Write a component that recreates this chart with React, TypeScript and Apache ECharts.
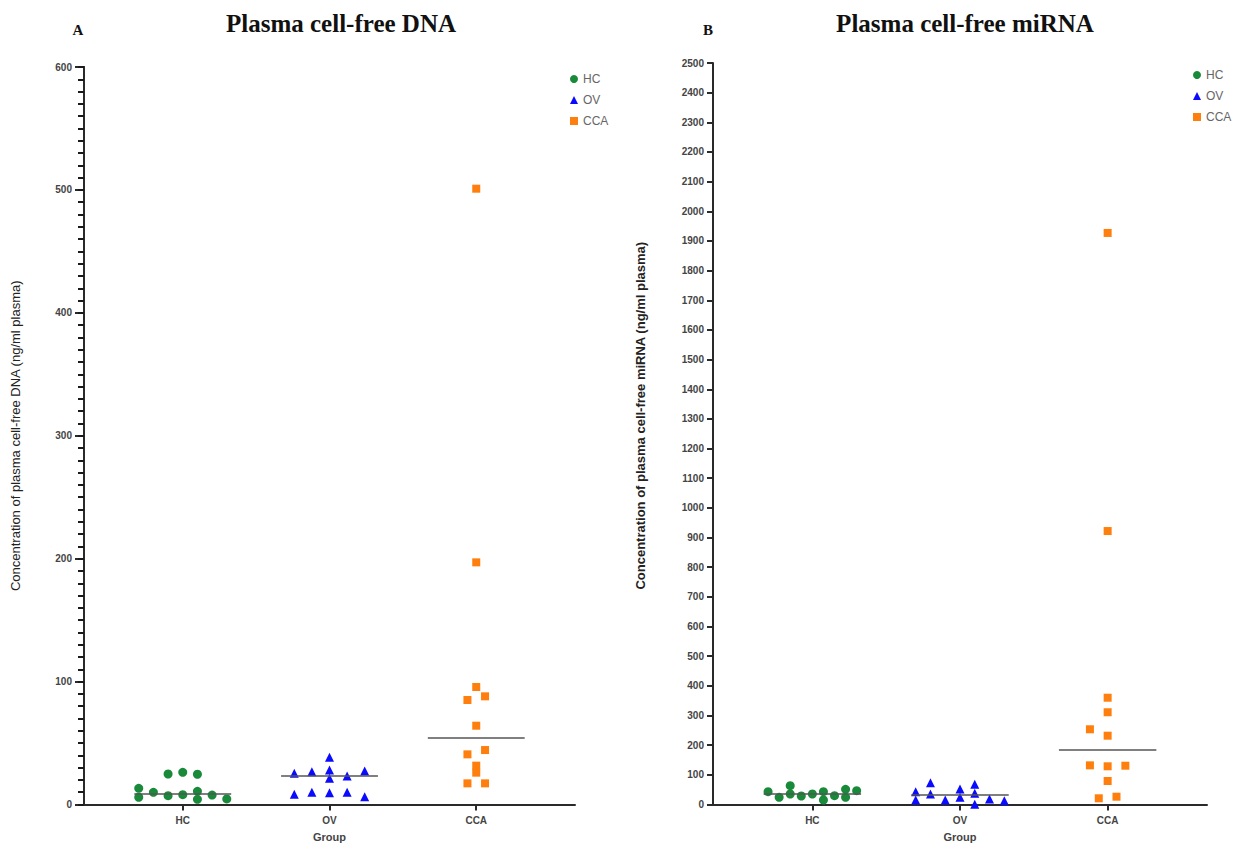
import React, { useEffect, useRef } from "react";
import * as echarts from "echarts";

const groups = ["HC", "OV", "CCA"];
const groupColors = ["#188a3a", "#0a0aff", "#ff7f0e"];
const groupSymbols = ["circle", "triangle", "rect"];
const groupSymbolSizes = [9, 9, 8];

// Panel A: plasma cell-free DNA (ng/ml plasma); x = jittered group position
const dnaHcX = [0.7, 0.7, 0.8, 0.9, 0.9, 1, 1, 1.1, 1.1, 1.1, 1.2, 1.3];
const dnaHcY = [13.2, 5.9, 9.9, 24.8, 7.2, 26.2, 8.0, 24.6, 10.7, 4.2, 7.7, 4.5];
const dnaOvX = [1.76, 1.88, 2, 2, 2, 2.12, 2.24, 1.76, 1.88, 2, 2.12, 2.24];
const dnaOvY = [25.4, 26.7, 38.4, 28.1, 21.3, 23.2, 27.3, 8.3, 9.9, 9.6, 9.9, 6.3];
const dnaCcaX = [3, 3, 3, 2.94, 3.06, 3, 2.94, 3.06, 3, 3, 2.94, 3.06];
const dnaCcaY = [501, 197, 95.6, 85.0, 88.0, 64.1, 40.8, 44.3, 31.6, 25.9, 17.2, 17.2];
const dnaMedians = [9.1, 23.2, 54.1];

// Panel B: plasma cell-free miRNA (ng/ml plasma)
const mirHcX = [0.7, 0.775, 0.85, 0.85, 0.925, 1, 1.075, 1.075, 1.15, 1.225, 1.225, 1.3];
const mirHcY = [43.2, 24.3, 63.4, 35.4, 28.7, 35.4, 43.2, 15.2, 29.7, 51.2, 24.3, 46.5];
const mirOvX = [1.7, 1.7, 1.8, 1.8, 1.9, 2, 2, 2.1, 2.1, 2.1, 2.2, 2.3];
const mirOvY = [43.2, 15.2, 73.5, 35.4, 15.2, 52.3, 24.3, 68.1, 37.8, 0.7, 18.5, 12.8];
const mirCcaX = [3, 3, 3, 3, 2.88, 3, 2.88, 3, 3.12, 3, 2.94, 3.06];
const mirCcaY = [1927, 922, 360, 311, 253.6, 232, 132, 128.8, 130.8, 79.3, 20.9, 26.3];
const mirMedians = [37.8, 34.4, 183.7];

const groupPositions = [1, 2, 3];

const zip = (xs: number[], ys: number[]) => xs.map((x, i) => [x, ys[i]]);

export default function App() {
  const ref = useRef<HTMLDivElement>(null);
  useEffect(() => {
    if (!ref.current) return;
    const chart = echarts.init(ref.current, null, { renderer: "svg" });
    const font = "'Liberation Sans', Arial, sans-serif";
    const serif = "'Liberation Serif', 'Times New Roman', serif";
    const axisColor = "#2a2a2a";

    const makeX = (gridIndex: number) => ({
      type: "value",
      gridIndex,
      min: 0.327,
      max: 3.673,
      name: "Group",
      nameLocation: "middle",
      nameGap: 27,
      nameTextStyle: { fontFamily: font, fontSize: 11, fontWeight: "bold", color: "#444" },
      splitLine: { show: false },
      axisLine: { lineStyle: { color: axisColor, width: 2 } },
      axisTick: { show: true, customValues: groupPositions, length: 6, lineStyle: { color: axisColor, width: 2 } },
      axisLabel: {
        customValues: groupPositions,
        formatter: (v: number) => groups[Math.round(v) - 1] ?? "",
        fontFamily: font,
        fontSize: 10,
        fontWeight: "bold",
        color: "#444",
        margin: 11,
      },
    });

    const dataA = [zip(dnaHcX, dnaHcY), zip(dnaOvX, dnaOvY), zip(dnaCcaX, dnaCcaY)];
    const dataB = [zip(mirHcX, mirHcY), zip(mirOvX, mirOvY), zip(mirCcaX, mirCcaY)];

    const makeSeries = (panel: number, data: number[][][], medians: number[]) =>
      groups.map((g, i) => ({
        name: g,
        type: "scatter",
        xAxisIndex: panel,
        yAxisIndex: panel,
        symbol: groupSymbols[i],
        symbolSize: groupSymbolSizes[i],
        itemStyle: { color: groupColors[i], opacity: 1 },
        data: data[i],
        markLine: {
          silent: true,
          symbol: ["none", "none"],
          label: { show: false },
          lineStyle: { color: "#555", width: 1.5, type: "solid" },
          data: [
            [
              { coord: [groupPositions[i] - 0.33, medians[i]] },
              { coord: [groupPositions[i] + 0.33, medians[i]] },
            ],
          ],
        },
      }));

    const legendBase = {
      orient: "vertical",
      itemWidth: 8,
      itemHeight: 8,
      itemGap: 9,
      textStyle: { fontFamily: font, fontSize: 12, color: "#666" },
      data: groups,
    };

    const plain = (v: number) => String(v);

    chart.setOption({
      animation: false,
      backgroundColor: "#ffffff",
      title: [
        { text: "Plasma cell-free DNA", left: 336, top: 6, textAlign: "center", textStyle: { fontFamily: serif, fontSize: 25, fontWeight: "bold", color: "#111" } },
        { text: "Plasma cell-free miRNA", left: 960, top: 6, textAlign: "center", textStyle: { fontFamily: serif, fontSize: 25, fontWeight: "bold", color: "#111" } },
        { text: "A", left: 73, top: 17, textAlign: "center", textStyle: { fontFamily: serif, fontSize: 15, fontWeight: "bold", color: "#111" } },
        { text: "B", left: 703, top: 17, textAlign: "center", textStyle: { fontFamily: serif, fontSize: 15, fontWeight: "bold", color: "#111" } },
      ],
      legend: [
        { ...legendBase, left: 565, top: 68 },
        { ...legendBase, left: 1188, top: 64 },
      ],
      grid: [
        { left: 84, top: 67, width: 491, bottom: 43.5 },
        { left: 713, top: 63, width: 494, bottom: 43.5 },
      ],
      xAxis: [makeX(0), makeX(1)],
      yAxis: [
        {
          type: "value",
          gridIndex: 0,
          position: "left",
          min: 0,
          max: 600,
          interval: 100,
          name: "Concentration of plasma cell-free DNA (ng/ml plasma)",
          nameLocation: "middle",
          nameGap: 62,
          nameTextStyle: { fontFamily: font, fontSize: 13, color: "#222" },
          splitLine: { show: false },
          axisLine: { show: true, lineStyle: { color: axisColor, width: 2 } },
          axisTick: { show: true, length: 9, lineStyle: { color: axisColor, width: 2 } },
          axisLabel: { fontFamily: font, fontSize: 10, fontWeight: "bold", color: "#444", margin: 12, formatter: plain },
        },
        {
          type: "value",
          gridIndex: 1,
          position: "left",
          min: 0,
          max: 2500,
          interval: 100,
          name: "Concentration of plasma cell-free miRNA (ng/ml plasma)",
          nameLocation: "middle",
          nameGap: 66,
          nameTextStyle: { fontFamily: font, fontSize: 13, fontWeight: "bold", color: "#222", padding: [0, 0, 0, 36] },
          splitLine: { show: false },
          axisLine: { show: true, lineStyle: { color: axisColor, width: 2 } },
          axisTick: { show: true, length: 6, lineStyle: { color: axisColor, width: 2 } },
          axisLabel: { fontFamily: font, fontSize: 10, fontWeight: "bold", color: "#444", margin: 9, formatter: plain },
        },
        {
          // minor ticks of panel A (every 10 ng/ml)
          type: "value",
          gridIndex: 0,
          position: "left",
          offset: 0,
          min: 0,
          max: 600,
          interval: 10,
          splitLine: { show: false },
          axisLine: { show: true, lineStyle: { color: axisColor, width: 2 } },
          axisTick: { show: true, length: 6, lineStyle: { color: "#1a1a1a", width: 2 } },
          axisLabel: { show: false },
        },
      ],
      series: [...makeSeries(0, dataA, dnaMedians), ...makeSeries(1, dataB, mirMedians)],
    });
    return () => chart.dispose();
  }, []);
  return (
    <div
      ref={ref}
      style={{ position: "absolute", left: 0, top: 0, width: 1252, height: 848 }}
    />
  );
}
